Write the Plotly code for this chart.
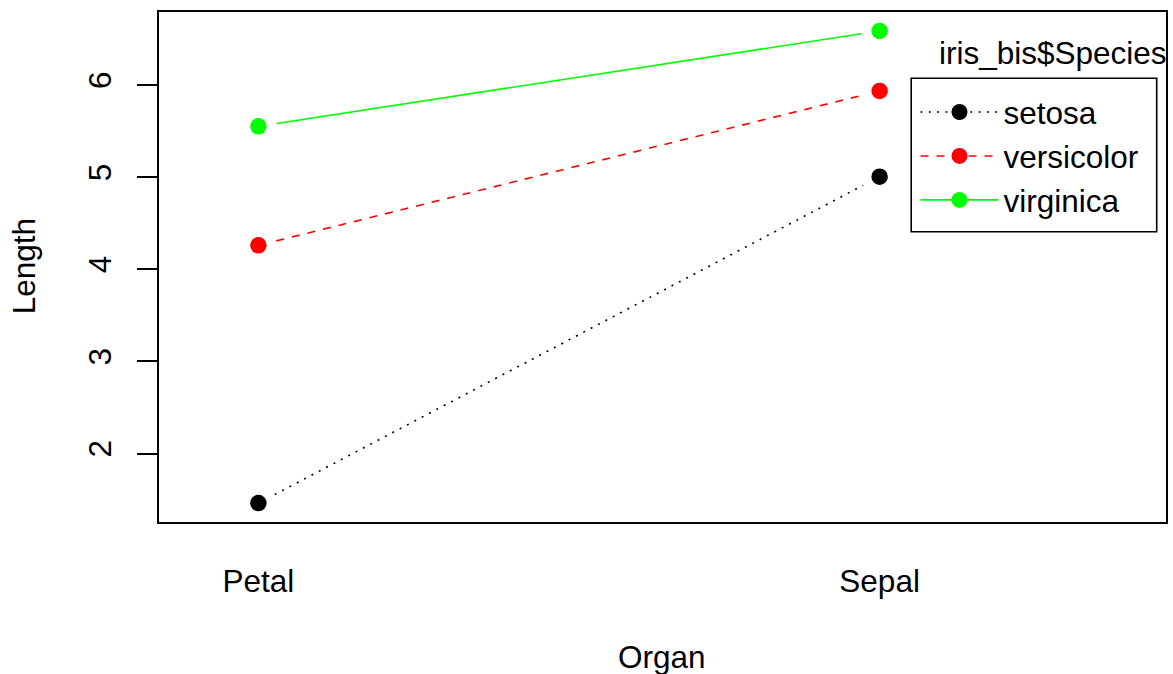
import plotly.graph_objects as go

# Mean lengths by organ and species
organs = ["Petal", "Sepal"]
species = ["setosa", "versicolor", "virginica"]
setosa_len = [1.462, 5.006]
versicolor_len = [4.260, 5.936]
virginica_len = [5.552, 6.588]
y_ticks = [2, 3, 4, 5, 6]

series = {"setosa": setosa_len, "versicolor": versicolor_len, "virginica": virginica_len}
colors = {"setosa": "#000000", "versicolor": "#FF0000", "virginica": "#00FF00"}
dashes = {"setosa": "2px,6.3px", "versicolor": "8px,8px", "virginica": "solid"}

W, H = 1173, 674
L, R, T, B = 159, 5, 12, 152
FONT = "Liberation Sans, Arial, Helvetica, sans-serif"
FS = 31.5

xpos = list(range(1, len(organs) + 1))
xr = [0.84, 2.461]
yr = [1.257, 6.793]
pw, ph = W - L - R, H - T - B
sx = pw / (xr[1] - xr[0])
sy = ph / (yr[1] - yr[0])
GAP = 18.5  # pixel gap between point and connecting line (type="b")


def px_x(p):
    return (p - L) / pw


def px_y(p):
    return (H - B - p) / ph


fig = go.Figure()

for sp in species:
    vals = series[sp]
    segx, segy = [], []
    for i in range(len(vals) - 1):
        dx, dy = xpos[i + 1] - xpos[i], vals[i + 1] - vals[i]
        length = ((dx * sx) ** 2 + (dy * sy) ** 2) ** 0.5
        f = GAP / length
        segx += [xpos[i] + f * dx, xpos[i + 1] - f * dx, None]
        segy += [vals[i] + f * dy, vals[i + 1] - f * dy, None]
    fig.add_trace(go.Scatter(
        x=segx, y=segy, mode="lines", showlegend=False, hoverinfo="skip",
        line=dict(color=colors[sp], width=1.6, dash=dashes[sp]),
    ))
    fig.add_trace(go.Scatter(
        x=xpos, y=vals, mode="markers", showlegend=False, name=sp,
        marker=dict(color=colors[sp], size=16.5, line=dict(width=0)),
    ))
    # legend entry
    fig.add_trace(go.Scatter(
        x=[None], y=[None], mode="lines+markers", name=sp,
        line=dict(color=colors[sp], width=1.6, dash=dashes[sp]),
        marker=dict(color=colors[sp], size=16.5),
    ))

# legend frame and title
fig.add_shape(type="rect", xref="paper", yref="paper",
              x0=px_x(912.7), x1=px_x(1158.7), y0=px_y(231.7), y1=px_y(78.3),
              line=dict(color="black", width=1.6), fillcolor="rgba(0,0,0,0)")
fig.add_annotation(text="iris_bis$Species", xref="paper", yref="paper",
                   x=px_x(939), y=px_y(53), xanchor="left", yanchor="middle",
                   showarrow=False, font=dict(size=FS, color="black", family=FONT))
fig.add_annotation(text="Organ", xref="paper", yref="paper",
                   x=px_x(663), y=px_y(657), xanchor="center", yanchor="middle",
                   showarrow=False, font=dict(size=FS, color="black", family=FONT))
fig.add_annotation(text="Length", xref="paper", yref="paper",
                   x=px_x(24), y=px_y(266), xanchor="center", yanchor="middle",
                   textangle=-90, showarrow=False,
                   font=dict(size=FS, color="black", family=FONT))

fig.update_layout(
    width=W, height=H,
    margin=dict(l=L, r=R, t=T, b=B, pad=0),
    paper_bgcolor="white", plot_bgcolor="white",
    font=dict(family=FONT, size=FS, color="black"),
    legend=dict(
        x=px_x(917), y=px_y(85), xanchor="left", yanchor="top",
        bgcolor="rgba(0,0,0,0)", borderwidth=0, itemwidth=78,
        font=dict(size=FS, family=FONT, color="black"), tracegroupgap=0,
    ),
    xaxis=dict(
        range=xr, showgrid=False, zeroline=False,
        showline=True, mirror=True, linecolor="black", linewidth=1.6,
        ticks="", tickvals=xpos, ticktext=organs, ticklabelstandoff=30,
        tickfont=dict(size=FS, family=FONT, color="black"),
    ),
    yaxis=dict(
        range=yr, showgrid=False, zeroline=False,
        showline=True, mirror=True, linecolor="black", linewidth=1.6,
        ticks="outside", ticklen=20, tickwidth=1.6, tickcolor="black",
        tickvals=y_ticks, tickangle=-90, ticklabelstandoff=14,
        tickfont=dict(size=FS, family=FONT, color="black"),
    ),
)

fig.write_html("out.html")
